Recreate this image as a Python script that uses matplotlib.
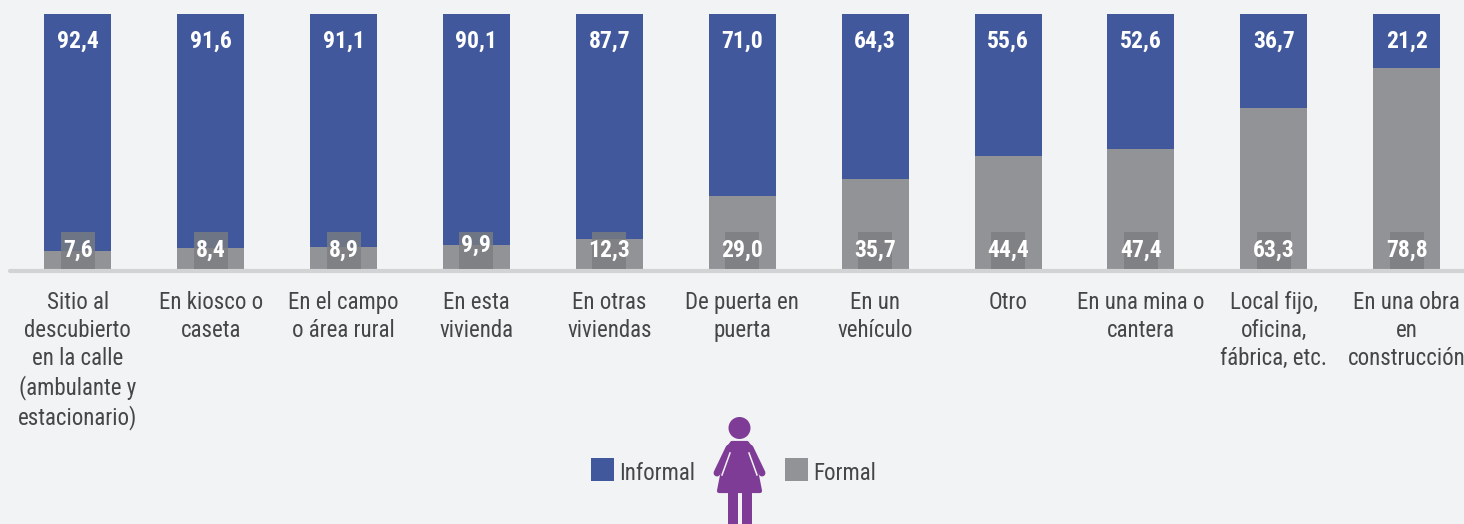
import matplotlib
matplotlib.use("Agg")
import matplotlib.pyplot as plt
from matplotlib.patches import Circle, Polygon, Rectangle
import numpy as np

categories = [
    "Sitio al\ndescubierto\nen la calle\n(ambulante y\nestacionario)",
    "En kiosco o\ncaseta",
    "En el campo\no área rural",
    "En esta\nvivienda",
    "En otras\nviviendas",
    "De puerta en\npuerta",
    "En un\nvehículo",
    "Otro",
    "En una mina o\ncantera",
    "Local fijo,\noficina,\nfábrica, etc.",
    "En una obra\nen\nconstrucción",
]
informal = [92.4, 91.6, 91.1, 90.1, 87.7, 71.0, 64.3, 55.6, 52.6, 36.7, 21.2]
formal = [7.6, 8.4, 8.9, 9.9, 12.3, 29.0, 35.7, 44.4, 47.4, 63.3, 78.8]

BLUE = "#41589c"
GREY = "#929396"
PURPLE = "#7f3c96"
BG = "#f2f3f5"
TEXT = "#454648"

plt.rcParams["font.family"] = ["Roboto Condensed", "Fira Sans Condensed", "Liberation Sans"]

W, H = 1464, 524
fig = plt.figure(figsize=(W / 100, H / 100), dpi=100, facecolor=BG)

# ejes alineados con la base y el tope de las barras
ax = fig.add_axes([0, (H - 270) / H, 1, 256 / H])
ax.set_facecolor("none")
step = 132.9
ax.set_xlim(-77.7 / step, (W - 77.7) / step)
ax.set_ylim(0, 100)
ax.axis("off")

x = np.arange(len(categories))
bar_w = 67 / step
ax.bar(x, formal, bar_w, color=GREY, linewidth=0)
ax.bar(x, informal, bar_w, bottom=formal, color=BLUE, linewidth=0)

for i in range(len(categories)):
    ax.text(x[i], 89.5, f"{informal[i]:.1f}".replace(".", ","), color="white", fontsize=17,
            fontweight="bold", ha="center", va="center")
    y_lab = 7.8
    if i == 3:
        y_lab = 9.8
    ax.text(x[i], y_lab, f"{formal[i]:.1f}".replace(".", ","), color="white", fontsize=17,
            fontweight="bold", ha="center", va="center", zorder=4)
    ax.add_patch(Rectangle((x[i] - 17 / step, 0.4), 34 / step, 14.4, facecolor="#7b7d80",
                           alpha=0.79, linewidth=0, zorder=3))
    ax.text(x[i], -8.3, categories[i], color=TEXT, fontsize=16.5, ha="center", va="top",
            linespacing=1.27, clip_on=False)

ax.plot([10 / step - 77.7 / step, (W - 77.7) / step], [-0.5, -0.5], color="#d1d3d4", linewidth=3,
        solid_capstyle="round", clip_on=False, zorder=2)

# leyenda e icono en coordenadas de pixel
ov = fig.add_axes([0, 0, 1, 1])
ov.set_xlim(0, W)
ov.set_ylim(H, 0)
ov.axis("off")
ov.add_patch(Rectangle((591, 458), 23, 23, facecolor=BLUE, linewidth=0))
ov.add_patch(Rectangle((785, 458), 23, 23, facecolor=GREY, linewidth=0))
ov.text(619, 474, "Informal", color=TEXT, fontsize=16.5, va="center", ha="left")
ov.text(813, 474, "Formal", color=TEXT, fontsize=16.5, va="center", ha="left")

ov.add_patch(Circle((739.5, 428), 11, facecolor=PURPLE, linewidth=0))
ov.plot([729, 717], [448, 473], color=PURPLE, linewidth=5, solid_capstyle="round")
ov.plot([750, 762], [448, 473], color=PURPLE, linewidth=5, solid_capstyle="round")
ov.add_patch(Polygon([(732, 443), (747, 443), (752, 450), (760, 491), (719, 491), (727, 450)],
                     closed=True, facecolor=PURPLE, edgecolor=PURPLE, linewidth=3, joinstyle="round"))
ov.plot([730, 722], [453, 475], color=BG, linewidth=1.1)
ov.plot([749, 757], [453, 475], color=BG, linewidth=1.1)
ov.add_patch(Rectangle((728, 492), 10, 40, facecolor=PURPLE, linewidth=0))
ov.add_patch(Rectangle((741.5, 492), 10, 40, facecolor=PURPLE, linewidth=0))

fig.savefig("out.png", dpi=100, facecolor=BG)
